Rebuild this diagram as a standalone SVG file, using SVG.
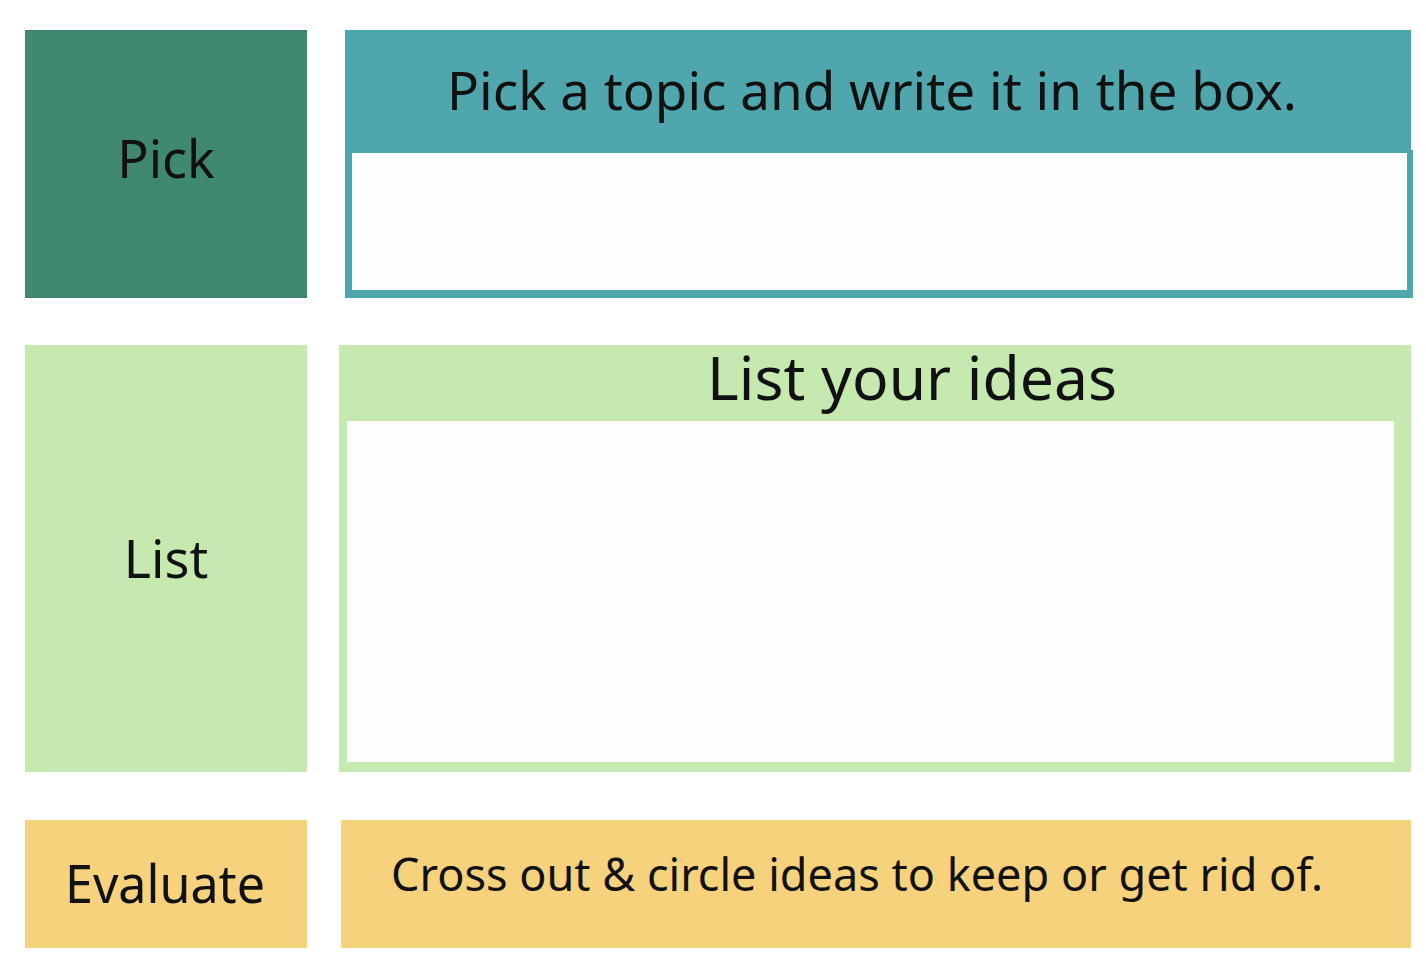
<svg xmlns="http://www.w3.org/2000/svg" width="1426" height="964" viewBox="0 0 1426 964">
<style>
text{font-family:"Noto Sans","Open Sans",sans-serif;fill:#111;text-anchor:middle}
.pick{fill:#418872}
.teal{fill:#4fa6ad}
.lg{fill:#c6e9b0}
.yl{fill:#f5d27b}
.wh{fill:#fefefe}
</style>
<rect width="1426" height="964" fill="#ffffff"/>
<g id="pick-label">
<rect class="pick" x="25" y="30" width="282" height="268"/>
<text x="166" y="178" font-size="52">Pick</text>
</g>
<g id="pick-panel">
<rect class="teal" x="345" y="30" width="1066" height="123"/>
<rect class="teal" x="345" y="150" width="1068" height="148"/>
<rect class="wh" x="352" y="153" width="1055" height="137"/>
<text x="872" y="110" font-size="52" textLength="850" lengthAdjust="spacingAndGlyphs">Pick a topic and write it in the box.</text>
</g>
<g id="list-label">
<rect class="lg" x="25" y="345" width="282" height="427"/>
<text x="166" y="578" font-size="52">List</text>
</g>
<g id="list-panel">
<rect class="lg" x="339" y="345" width="1072" height="427"/>
<rect class="wh" x="347" y="421" width="1047" height="341"/>
<text x="912" y="400" font-size="60" textLength="410" lengthAdjust="spacingAndGlyphs">List your ideas</text>
</g>
<g id="evaluate-label">
<rect class="yl" x="25" y="820" width="282" height="128"/>
<text x="165" y="903" font-size="52" textLength="200" lengthAdjust="spacingAndGlyphs">Evaluate</text>
</g>
<g id="evaluate-panel">
<rect class="yl" x="341" y="820" width="1070" height="128"/>
<text x="857" y="891" font-size="46" textLength="932" lengthAdjust="spacingAndGlyphs">Cross out &amp; circle ideas to keep or get rid of.</text>
</g>
<g id="connectors"></g>
</svg>
